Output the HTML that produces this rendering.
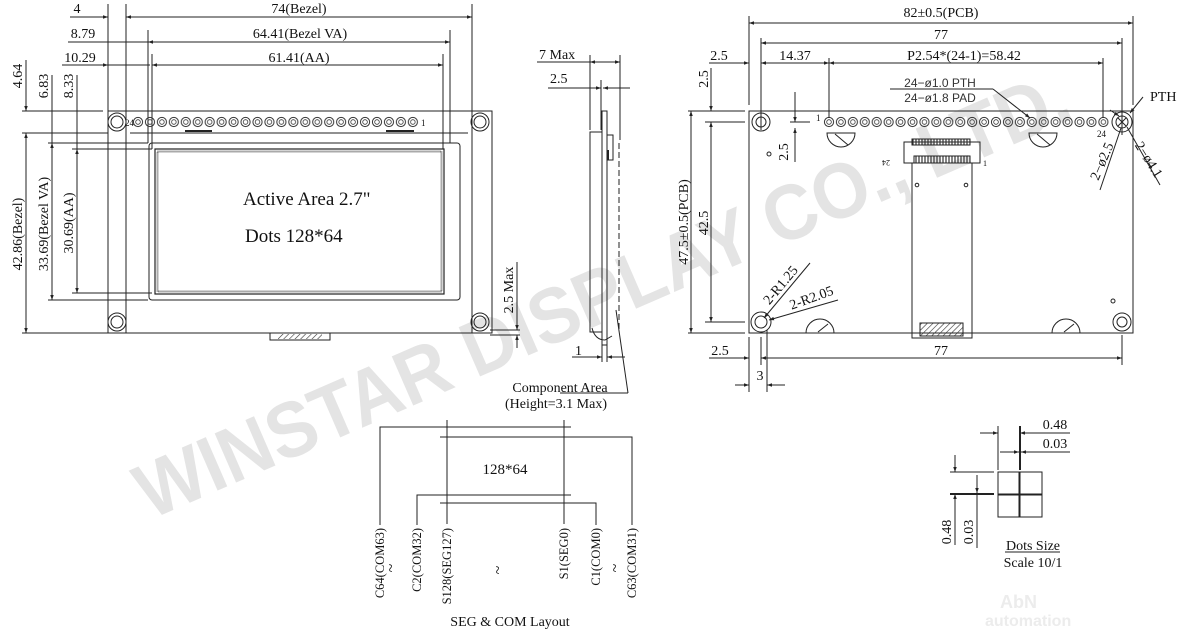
<!DOCTYPE html>
<html><head><meta charset="utf-8"><style>
html,body{margin:0;padding:0;background:#fff;}
svg{display:block;font-family:"Liberation Serif",serif;}
</style></head><body>
<svg width="1200" height="638" viewBox="0 0 1200 638" xmlns="http://www.w3.org/2000/svg">
<defs>
<marker id="a" viewBox="0 0 10 10" refX="10" refY="5" markerWidth="7" markerHeight="5" orient="auto-start-reverse"><path d="M0,1.5L10,5L0,8.5z" fill="#222"/></marker>
<pattern id="pinL" x="132" y="116" width="11.95" height="12" patternUnits="userSpaceOnUse"><circle cx="6" cy="6" r="4.6" fill="none" stroke="#333" stroke-width="1"/><circle cx="6" cy="6" r="2.3" fill="none" stroke="#333" stroke-width="0.8"/></pattern>
<pattern id="pinR" x="823" y="116" width="11.93" height="12" patternUnits="userSpaceOnUse"><circle cx="6" cy="6" r="4.6" fill="none" stroke="#333" stroke-width="1"/><circle cx="6" cy="6" r="2.3" fill="none" stroke="#333" stroke-width="0.8"/></pattern>
<pattern id="hat" width="4" height="4" patternUnits="userSpaceOnUse" patternTransform="rotate(45)"><line x1="0" y1="0" x2="0" y2="4" stroke="#333" stroke-width="1.2"/></pattern>
<pattern id="teeth" width="3" height="6" patternUnits="userSpaceOnUse"><line x1="1" y1="0" x2="1" y2="6" stroke="#333" stroke-width="1.2"/></pattern>
</defs>

<!-- watermark -->
<text x="150" y="520" transform="rotate(-23.5 150 520)" font-family="Liberation Sans,sans-serif" font-weight="bold" font-size="78" fill="#e4e4e4" textLength="1010" lengthAdjust="spacingAndGlyphs">WINSTAR DISPLAY CO., LTD.</text>
<text x="1000" y="608" font-family="Liberation Sans,sans-serif" font-weight="bold" font-size="18" fill="#ececec">AbN</text>
<text x="985" y="626" font-family="Liberation Sans,sans-serif" font-weight="bold" font-size="16" fill="#ececec">automation</text>

<g stroke="#222" stroke-width="1" fill="none">
<!-- ===== LEFT VIEW ===== -->
<rect x="108" y="111" width="384" height="222"/>
<line x1="126" y1="4" x2="126" y2="333"/><line x1="472" y1="4" x2="472" y2="333"/>
<line x1="108" y1="4" x2="108" y2="111"/>
<line x1="148" y1="30" x2="148" y2="143"/><line x1="152" y1="54" x2="152" y2="149"/>
<line x1="450" y1="30" x2="450" y2="143"/><line x1="443" y1="54" x2="443" y2="149"/>
<line x1="130" y1="133" x2="468" y2="133"/>
<rect x="149" y="143" width="311" height="157" rx="3"/>
<rect x="155" y="149" width="289" height="145" stroke-width="1.2"/>
<rect x="157.5" y="151.5" width="284" height="140" stroke="#555" stroke-width="2" stroke-dasharray="1 1"/>
<circle cx="117" cy="122" r="9"/><circle cx="117" cy="122" r="6"/>
<circle cx="480" cy="122" r="9"/><circle cx="480" cy="122" r="6"/>
<circle cx="117" cy="322" r="9"/><circle cx="117" cy="322" r="6"/>
<circle cx="480" cy="322" r="9"/><circle cx="480" cy="322" r="6"/>
<rect x="132" y="116" width="286.8" height="12" fill="url(#pinL)" stroke="none"/>
<line x1="185" y1="131" x2="212" y2="131" stroke-width="2"/><line x1="386" y1="131" x2="414" y2="131" stroke-width="2"/>
<rect x="270" y="333" width="60" height="7"/><rect x="278" y="334" width="44" height="5" fill="url(#hat)" stroke="none"/>
<!-- top dims -->
<line x1="126" y1="17" x2="472" y2="17" marker-start="url(#a)" marker-end="url(#a)"/>
<line x1="70" y1="17" x2="108" y2="17" marker-end="url(#a)"/><line x1="140" y1="17" x2="126" y2="17"/>
<line x1="148" y1="42" x2="450" y2="42" marker-start="url(#a)" marker-end="url(#a)"/>
<line x1="68" y1="42" x2="108" y2="42"/><line x1="108" y1="42" x2="148" y2="42"/>
<line x1="152" y1="65" x2="443" y2="65" marker-start="url(#a)" marker-end="url(#a)"/>
<line x1="62" y1="65" x2="108" y2="65" marker-end="url(#a)"/><line x1="108" y1="65" x2="150" y2="65"/>
<!-- left ext lines -->
<line x1="22" y1="111" x2="103" y2="111"/><line x1="22" y1="133" x2="108" y2="133"/>
<line x1="48" y1="143" x2="148" y2="143"/><line x1="72" y1="149" x2="152" y2="149"/>
<line x1="72" y1="293" x2="152" y2="293"/><line x1="48" y1="300" x2="148" y2="300"/>
<line x1="22" y1="333" x2="108" y2="333"/>
<line x1="26" y1="60" x2="26" y2="111" marker-end="url(#a)"/><line x1="26" y1="133" x2="26" y2="333" marker-start="url(#a)" marker-end="url(#a)"/>
<line x1="52" y1="75" x2="52" y2="300" marker-end="url(#a)"/>
<line x1="52" y1="143" x2="52" y2="300" marker-start="url(#a)"/>
<line x1="77" y1="75" x2="77" y2="293" marker-end="url(#a)"/>
<line x1="77" y1="149" x2="77" y2="293" marker-start="url(#a)"/>

<!-- ===== SIDE VIEW ===== -->
<rect x="590" y="132" width="12" height="200"/>
<rect x="602" y="111" width="5" height="234"/>
<line x1="619" y1="143" x2="619" y2="330" stroke-dasharray="6 3"/>
<path d="M607 135 L613 135 L613 160 L607 160"/><line x1="608" y1="150" x2="608" y2="160" stroke-width="2"/>
<path d="M592 328 Q595 340 605 340 L612 336"/>
<line x1="537" y1="62" x2="620" y2="62"/><line x1="590" y1="62" x2="620" y2="62" marker-start="url(#a)" marker-end="url(#a)"/>
<line x1="590" y1="55" x2="590" y2="130"/><line x1="620" y1="55" x2="620" y2="140"/>
<line x1="548" y1="88" x2="601" y2="88" marker-end="url(#a)"/><line x1="630" y1="88" x2="603" y2="88" marker-end="url(#a)"/>
<line x1="601" y1="80" x2="601" y2="130"/>
<line x1="517" y1="262" x2="517" y2="330" marker-end="url(#a)"/><line x1="517" y1="348" x2="517" y2="335" marker-end="url(#a)"/>
<line x1="490" y1="330" x2="520" y2="330"/><line x1="490" y1="335" x2="520" y2="335"/>
<line x1="572" y1="357" x2="602" y2="357" marker-end="url(#a)"/><line x1="625" y1="357" x2="607" y2="357" marker-end="url(#a)"/>
<line x1="602" y1="340" x2="602" y2="362"/><line x1="607" y1="340" x2="607" y2="362"/>
<line x1="616" y1="310" x2="628" y2="393"/><line x1="560" y1="393" x2="628" y2="393"/>

<!-- ===== RIGHT VIEW ===== -->
<rect x="749" y="111" width="384" height="222"/>
<circle cx="761" cy="122" r="9"/><circle cx="761" cy="122" r="5"/>
<circle cx="1122" cy="122" r="10"/><circle cx="1122" cy="122" r="6"/><path d="M1118 118l8 8M1126 118l-8 8"/>
<circle cx="761" cy="322" r="10"/><circle cx="761" cy="322" r="6"/>
<circle cx="1122" cy="322" r="9"/><circle cx="1122" cy="322" r="5"/>
<circle cx="769" cy="154" r="2"/><circle cx="1113" cy="301" r="2"/>
<rect x="823" y="116" width="286.3" height="12" fill="url(#pinR)" stroke="none"/>
<path d="M827 133 h28 a14 14 0 0 1 -28 0z"/><path d="M1029 133 h28 a14 14 0 0 1 -28 0z"/>
<line x1="835" y1="134" x2="848" y2="145"/><line x1="1037" y1="134" x2="1050" y2="145"/>
<path d="M806 333 a14 14 0 0 1 28 0"/><path d="M1052 333 a14 14 0 0 1 28 0"/>
<line x1="818" y1="332" x2="828" y2="324"/><line x1="1064" y1="332" x2="1074" y2="324"/>
<rect x="912" y="163" width="60" height="175"/>
<rect x="920" y="323" width="43" height="13" fill="url(#hat)"/>
<rect x="904" y="142" width="76" height="21"/>
<rect x="912" y="139" width="58" height="6" fill="url(#teeth)"/>
<rect x="914" y="156" width="56" height="7" fill="url(#teeth)"/>
<circle cx="917" cy="185" r="1.8"/><circle cx="966" cy="185" r="1.8"/>
<!-- dims -->
<line x1="749" y1="23" x2="1133" y2="23" marker-start="url(#a)" marker-end="url(#a)"/>
<line x1="749" y1="16" x2="749" y2="105"/><line x1="1133" y1="16" x2="1133" y2="105"/>
<line x1="761" y1="43" x2="1122" y2="43" marker-start="url(#a)" marker-end="url(#a)"/>
<line x1="761" y1="38" x2="761" y2="130"/><line x1="1122" y1="38" x2="1122" y2="135"/>
<line x1="709" y1="63" x2="749" y2="63" marker-end="url(#a)"/>
<line x1="761" y1="63" x2="829" y2="63" marker-start="url(#a)" marker-end="url(#a)"/>
<line x1="829" y1="63" x2="1103" y2="63" marker-start="url(#a)" marker-end="url(#a)"/>
<line x1="829" y1="58" x2="829" y2="118"/><line x1="1103" y1="58" x2="1103" y2="118"/>
<line x1="890" y1="89" x2="993" y2="89"/><line x1="993" y1="89" x2="1030" y2="118" marker-end="url(#a)"/>
<line x1="1143" y1="97" x2="1130" y2="113" marker-end="url(#a)"/>
<line x1="1110" y1="110" x2="1119" y2="116" marker-end="url(#a)"/>
<line x1="1100" y1="190" x2="1121" y2="128"/><line x1="1160" y1="185" x2="1127" y2="127"/>
<line x1="688" y1="111" x2="745" y2="111"/><line x1="705" y1="122" x2="745" y2="122"/>
<line x1="705" y1="322" x2="745" y2="322"/><line x1="688" y1="333" x2="745" y2="333"/>
<line x1="691" y1="111" x2="691" y2="333" marker-start="url(#a)" marker-end="url(#a)"/>
<line x1="711" y1="68" x2="711" y2="111" marker-end="url(#a)"/><line x1="711" y1="122" x2="711" y2="322" marker-start="url(#a)" marker-end="url(#a)"/>
<line x1="795" y1="92" x2="795" y2="122" marker-end="url(#a)"/><line x1="795" y1="162" x2="795" y2="128" marker-end="url(#a)"/>
<line x1="790" y1="122" x2="810" y2="122"/>
<line x1="810" y1="263" x2="764" y2="318" marker-end="url(#a)"/>
<line x1="838" y1="300" x2="769" y2="320" marker-end="url(#a)"/>
<line x1="749" y1="337" x2="749" y2="392"/><line x1="761" y1="337" x2="761" y2="365"/><line x1="767" y1="330" x2="767" y2="392"/>
<line x1="1122" y1="335" x2="1122" y2="365"/>
<line x1="709" y1="358" x2="749" y2="358" marker-end="url(#a)"/>
<line x1="761" y1="358" x2="1122" y2="358" marker-start="url(#a)" marker-end="url(#a)"/>
<line x1="735" y1="385" x2="749" y2="385" marker-end="url(#a)"/><line x1="785" y1="385" x2="767" y2="385" marker-end="url(#a)"/>

<!-- ===== SEG COM ===== -->
<line x1="447" y1="420" x2="447" y2="524"/><line x1="564" y1="420" x2="564" y2="524"/>
<path d="M571 427 H380 V525"/><path d="M440 437 H632 V525"/>
<path d="M571 495 H417 V525"/><path d="M440 503 H596 V525"/>

<!-- ===== DOTS ===== -->
<rect x="998" y="472" width="44" height="45"/>
<line x1="1020" y1="472" x2="1020" y2="517"/><line x1="1019" y1="472" x2="1019" y2="517"/>
<line x1="998" y1="495" x2="1042" y2="495"/><line x1="998" y1="494" x2="1042" y2="494"/>
<line x1="998" y1="426" x2="998" y2="470"/><line x1="1020" y1="426" x2="1020" y2="470" stroke-width="2"/>
<line x1="980" y1="433" x2="998" y2="433" marker-end="url(#a)"/><line x1="1070" y1="433" x2="1020" y2="433" marker-end="url(#a)"/>
<line x1="1000" y1="452" x2="1019" y2="452" marker-end="url(#a)"/><line x1="1070" y1="452" x2="1021" y2="452" marker-end="url(#a)"/>
<line x1="950" y1="472" x2="994" y2="472"/><line x1="950" y1="494" x2="994" y2="494" stroke-width="2"/>
<line x1="955" y1="455" x2="955" y2="472" marker-end="url(#a)"/><line x1="955" y1="545" x2="955" y2="494" marker-end="url(#a)"/>
<line x1="977" y1="475" x2="977" y2="493" marker-end="url(#a)"/><line x1="977" y1="548" x2="977" y2="495"/>
<line x1="1005" y1="552" x2="1060" y2="552"/>
</g>

<g fill="#111" font-size="14">
<!-- left -->
<text x="77" y="13" text-anchor="middle">4</text>
<text x="299" y="13" text-anchor="middle">74(Bezel)</text>
<text x="83" y="38" text-anchor="middle">8.79</text>
<text x="300" y="38" text-anchor="middle">64.41(Bezel VA)</text>
<text x="80" y="62" text-anchor="middle">10.29</text>
<text x="299" y="62" text-anchor="middle">61.41(AA)</text>
<text transform="translate(22 76) rotate(-90)" text-anchor="middle">4.64</text>
<text transform="translate(48 86) rotate(-90)" text-anchor="middle">6.83</text>
<text transform="translate(73 86) rotate(-90)" text-anchor="middle">8.33</text>
<text transform="translate(22 234) rotate(-90)" text-anchor="middle">42.86(Bezel)</text>
<text transform="translate(48 224) rotate(-90)" text-anchor="middle">33.69(Bezel VA)</text>
<text transform="translate(73 223) rotate(-90)" text-anchor="middle">30.69(AA)</text>
<text x="243" y="205" font-size="19">Active Area 2.7"</text>
<text x="245" y="242" font-size="19">Dots 128*64</text>
<text x="125" y="126" font-size="9">24</text>
<text x="421" y="126" font-size="9">1</text>
<!-- side -->
<text x="539" y="59">7 Max</text>
<text x="550" y="83">2.5</text>
<text transform="translate(513 290) rotate(-90)" text-anchor="middle">2.5 Max</text>
<text x="575" y="355">1</text>
<text x="560" y="392" text-anchor="middle">Component Area</text>
<text x="556" y="408" text-anchor="middle">(Height=3.1 Max)</text>
<!-- right -->
<text x="941" y="17" text-anchor="middle">82±0.5(PCB)</text>
<text x="941" y="39" text-anchor="middle">77</text>
<text x="719" y="60" text-anchor="middle">2.5</text>
<text x="795" y="60" text-anchor="middle">14.37</text>
<text x="964" y="60" text-anchor="middle">P2.54*(24-1)=58.42</text>
<text x="940" y="87" text-anchor="middle" font-family="Liberation Sans,sans-serif" font-size="12" fill="#333">24−ø1.0  PTH</text>
<text x="940" y="102" text-anchor="middle" font-family="Liberation Sans,sans-serif" font-size="12" fill="#333">24−ø1.8  PAD</text>
<text x="1150" y="101">PTH</text>
<text x="816" y="121" font-size="9">1</text>
<text x="1097" y="137" font-size="9">24</text>
<text x="983" y="166" font-size="8">1</text>
<text transform="translate(890 160) rotate(180)" font-size="8">24</text>
<text transform="translate(708 79) rotate(-90)" text-anchor="middle">2.5</text>
<text transform="translate(788 152) rotate(-90)" text-anchor="middle">2.5</text>
<text transform="translate(708 223) rotate(-90)" text-anchor="middle">42.5</text>
<text transform="translate(688 222) rotate(-90)" text-anchor="middle">47.5±0.5(PCB)</text>
<text transform="translate(1106 163) rotate(-67)" text-anchor="middle">2−ø2.5</text>
<text transform="translate(1145 162) rotate(58)" text-anchor="middle">2−ø4.1</text>
<text transform="translate(784 288) rotate(-50)" text-anchor="middle">2-R1.25</text>
<text transform="translate(813 302) rotate(-20)" text-anchor="middle">2-R2.05</text>
<text x="720" y="355" text-anchor="middle">2.5</text>
<text x="941" y="355" text-anchor="middle">77</text>
<text x="760" y="380" text-anchor="middle">3</text>
<!-- seg com -->
<text x="505" y="474" text-anchor="middle" font-size="15">128*64</text>
<text transform="translate(384 528) rotate(-90)" text-anchor="end" font-size="12.5">C64(COM63)</text>
<text transform="translate(421 528) rotate(-90)" text-anchor="end" font-size="12.5">C2(COM32)</text>
<text transform="translate(451 528) rotate(-90)" text-anchor="end" font-size="12.5">S128(SEG127)</text>
<text transform="translate(568 528) rotate(-90)" text-anchor="end" font-size="12.5">S1(SEG0)</text>
<text transform="translate(600 528) rotate(-90)" text-anchor="end" font-size="12.5">C1(COM0)</text>
<text transform="translate(636 528) rotate(-90)" text-anchor="end" font-size="12.5">C63(COM31)</text>
<text transform="translate(396 568) rotate(-90)" text-anchor="middle" font-size="16">~</text>
<text transform="translate(503 570) rotate(-90)" text-anchor="middle" font-size="16">~</text>
<text transform="translate(620 568) rotate(-90)" text-anchor="middle" font-size="16">~</text>
<text x="510" y="626" text-anchor="middle">SEG &amp; COM  Layout</text>
<!-- dots -->
<text x="1055" y="429" text-anchor="middle">0.48</text>
<text x="1055" y="448" text-anchor="middle">0.03</text>
<text transform="translate(951 532) rotate(-90)" text-anchor="middle">0.48</text>
<text transform="translate(973 532) rotate(-90)" text-anchor="middle">0.03</text>
<text x="1033" y="550" text-anchor="middle">Dots Size</text>
<text x="1033" y="567" text-anchor="middle">Scale 10/1</text>
</g>
</svg>
</body></html>
